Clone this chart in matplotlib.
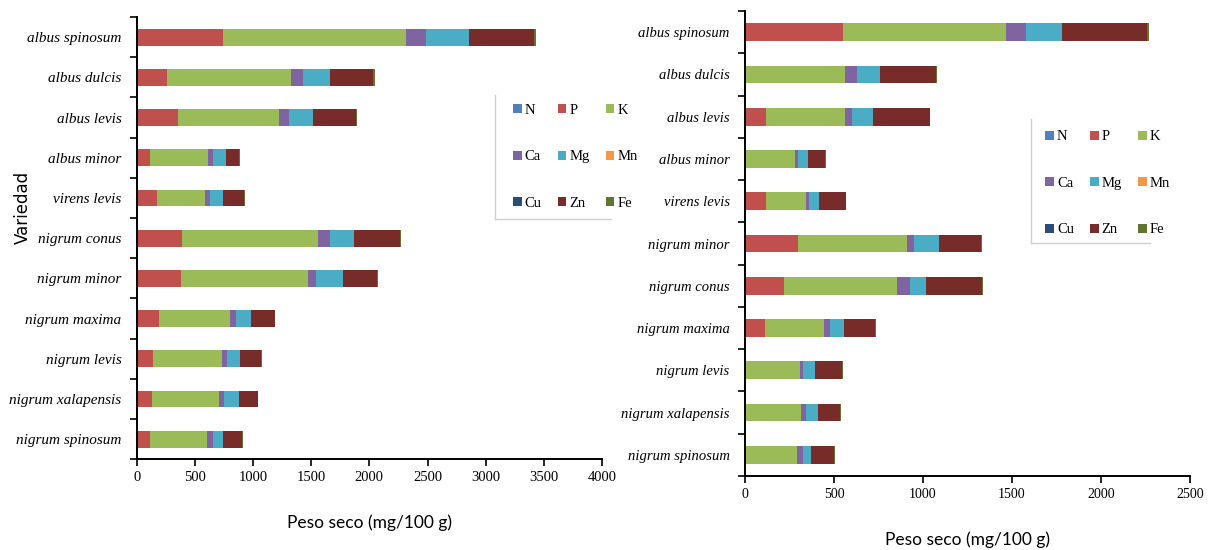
import numpy as np
import matplotlib
matplotlib.use("Agg")
import matplotlib.pyplot as plt
from matplotlib.lines import Line2D

# Elements, in stacking order
elements = ["N", "P", "K", "Ca", "Mg", "Mn", "Cu", "Zn", "Fe"]
colors = ["#4F81BD", "#C0504D", "#9BBB59", "#8064A2", "#4BACC6",
          "#F79646", "#2C4D75", "#772C2A", "#5F7530"]

# Left panel (top to bottom)
cats_left = ["albus spinosum", "albus dulcis", "albus levis", "albus minor",
             "virens levis", "nigrum conus", "nigrum minor", "nigrum maxima",
             "nigrum levis", "nigrum xalapensis", "nigrum spinosum"]
left_N = [0, 0, 0, 0, 0, 0, 0, 0, 0, 0, 0]
left_P = [745, 264, 351, 117, 170, 391, 381, 194, 144, 130, 117]
left_K = [1571, 1066, 876, 495, 418, 1166, 1093, 605, 591, 579, 485]
left_Ca = [174, 100, 80, 40, 40, 101, 70, 53, 40, 43, 50]
left_Mg = [364, 228, 207, 113, 117, 210, 231, 134, 114, 124, 90]
left_Mn = [0, 0, 0, 0, 0, 0, 0, 0, 0, 0, 0]
left_Cu = [0, 0, 0, 0, 0, 0, 0, 0, 0, 0, 0]
left_Zn = [565, 377, 374, 117, 174, 395, 287, 200, 177, 163, 164]
left_Fe = [10, 10, 10, 7, 10, 10, 10, 7, 10, 7, 6]

# Right panel (top to bottom)
cats_right = ["albus spinosum", "albus dulcis", "albus levis", "albus minor",
              "virens levis", "nigrum minor", "nigrum conus", "nigrum maxima",
              "nigrum levis", "nigrum xalapensis", "nigrum spinosum"]
right_N = [0, 0, 0, 0, 0, 0, 0, 0, 0, 0, 0]
right_P = [551, 0, 116, 0, 116, 295, 219, 110, 0, 0, 0]
right_K = [914, 564, 443, 280, 224, 617, 633, 335, 310, 314, 293]
right_Ca = [116, 64, 43, 15, 21, 39, 75, 35, 15, 30, 32]
right_Mg = [200, 129, 116, 60, 54, 137, 90, 77, 69, 65, 43]
right_Mn = [0, 0, 0, 0, 0, 0, 0, 0, 0, 0, 0]
right_Cu = [0, 0, 0, 0, 0, 0, 0, 0, 0, 0, 0]
right_Zn = [475, 314, 319, 97, 151, 239, 314, 174, 152, 124, 131]
right_Fe = [15, 7, 4, 4, 4, 7, 7, 7, 7, 7, 6]

left_series = [left_N, left_P, left_K, left_Ca, left_Mg, left_Mn, left_Cu, left_Zn, left_Fe]
right_series = [right_N, right_P, right_K, right_Ca, right_Mg, right_Mn, right_Cu, right_Zn, right_Fe]

serif = "Liberation Serif"
sans = "Lato"

fig = plt.figure(figsize=(12.1, 5.5), dpi=100)
ax1 = fig.add_axes([0.113, 0.165, 0.3845, 0.804])
ax2 = fig.add_axes([0.6157, 0.1345, 0.3678, 0.8455])


def draw(ax, cats, series, xmax, xstep, bar_h, label_size, tick_size):
    y = np.arange(len(cats))
    base = np.zeros(len(cats))
    handles = []
    for name, vals, c in zip(elements, series, colors):
        vals = np.array(vals, dtype=float)
        b = ax.barh(y, vals, left=base, height=bar_h, color=c, label=name,
                    edgecolor="none")
        handles.append(b)
        base += vals
    ax.set_ylim(len(cats) - 0.5, -0.5)
    ax.set_yticks(y)
    ax.set_yticklabels(cats, fontfamily=serif, fontstyle="italic", fontsize=label_size)
    ax.set_yticks(np.arange(len(cats) + 1) - 0.5, minor=True)
    ax.tick_params(axis="y", which="major", length=0, pad=11)
    ax.tick_params(axis="y", which="minor", length=5, width=1.2, direction="out")
    ax.set_xlim(0, xmax)
    ax.set_xticks(np.arange(0, xmax + 1, xstep))
    ax.tick_params(axis="x", length=5, width=1.2, direction="out", labelsize=tick_size)
    for lbl in ax.get_xticklabels():
        lbl.set_fontfamily(serif)
    for s in ["top", "right"]:
        ax.spines[s].set_visible(False)
    for s in ["left", "bottom"]:
        ax.spines[s].set_linewidth(1.4)
    ax.set_xlabel("Peso seco (mg/100 g)", fontfamily=sans, fontsize=12.5, labelpad=22)
    return handles


h1 = draw(ax1, cats_left, left_series, 4000, 500, 0.42, 11, 10.5)
h2 = draw(ax2, cats_right, right_series, 2500, 500, 0.42, 10.5, 10)

ax1.set_ylabel("Variedad", fontfamily="DejaVu Sans", fontsize=12, labelpad=10)
ax1.yaxis.set_label_coords(-0.225, 0.57)

# legend order: rows N P K / Ca Mg Mn / Cu Zn Fe (matplotlib fills by column)
order = [0, 3, 6, 1, 4, 7, 2, 5, 8]


def add_legend(handles, anchor, box):
    fig.legend([handles[i] for i in order], [elements[i] for i in order],
               ncol=3, loc="upper left", bbox_to_anchor=anchor,
               frameon=False, prop={"family": serif, "size": 10.5},
               handlelength=0.6, handleheight=0.6, handletextpad=0.2,
               columnspacing=1.1, labelspacing=2.3)
    x0, y0, x1 = box
    fig.add_artist(Line2D([x0, x0], [y0, y0 + 0.225], color="#d0d0d0", lw=1))
    fig.add_artist(Line2D([x0, x1], [y0, y0], color="#d0d0d0", lw=1))


add_legend(h1, (0.413, 0.835), (0.409, 0.602, 0.505))
add_legend(h2, (0.853, 0.787), (0.852, 0.558, 0.95))

fig.savefig("out.png", dpi=100)
